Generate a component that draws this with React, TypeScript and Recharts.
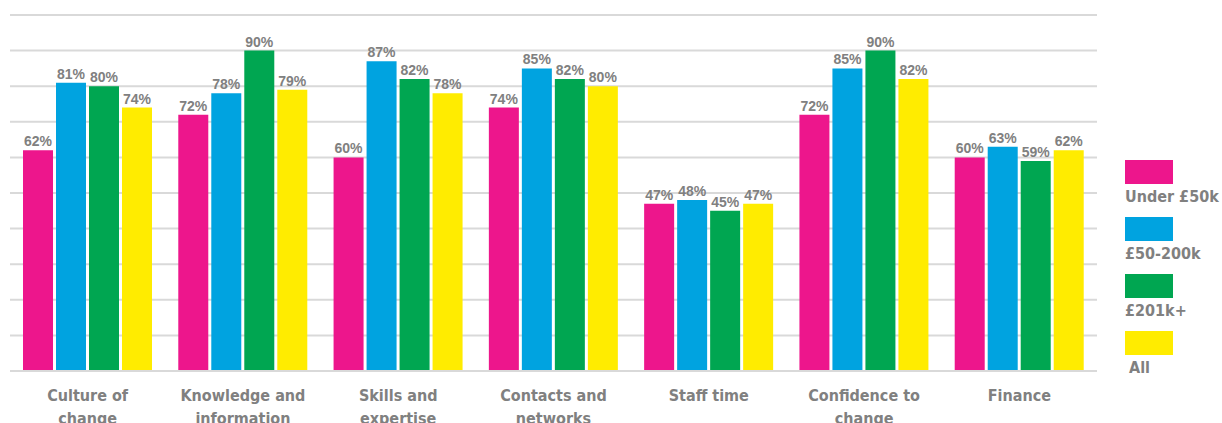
import React from 'react';
import { BarChart, Bar, XAxis, YAxis, CartesianGrid, LabelList } from 'recharts';

const categories = [
    ['Culture of', 'change'],
    ['Knowledge and', 'information'],
    ['Skills and', 'expertise'],
    ['Contacts and', 'networks'],
    ['Staff time'],
    ['Confidence to', 'change'],
    ['Finance'],
];

const under50k = [62, 72, 60, 74, 47, 72, 60];
const mid50to200k = [81, 78, 87, 85, 48, 85, 63];
const over201k = [80, 90, 82, 82, 45, 90, 59];
const allOrgs = [74, 79, 78, 80, 47, 82, 62];

const yTicks = [0, 10, 20, 30, 40, 50, 60, 70, 80, 90, 100];

const series = [
    { key: 'under', name: 'Under £50k', color: '#ED168C' },
    { key: 'mid', name: '£50-200k', color: '#00A3E0' },
    { key: 'big', name: '£201k+', color: '#00A651' },
    { key: 'all', name: 'All', color: '#FFEC00' },
];

const data = categories.map((c, i) => ({
    cat: c.join(' '),
    lines: c,
    under: under50k[i],
    mid: mid50to200k[i],
    big: over201k[i],
    all: allOrgs[i],
}));

const GREY = '#808080';
const FONT = "'DejaVu Sans Condensed', 'Liberation Sans', sans-serif";

function CategoryTick(props: any) {
    const { x, y, payload } = props;
    const lines: string[] = data[payload.index]?.lines ?? [String(payload.value)];
    return (
        <text
            x={x}
            y={y + 22}
            textAnchor="middle"
            fill={GREY}
            fontFamily={FONT}
            fontWeight={700}
            fontSize={16}
        >
            {lines.map((l, i) => (
                <tspan key={i} x={x} dy={i === 0 ? 0 : 23}>
                    {l}
                </tspan>
            ))}
        </text>
    );
}

function SideLegend() {
    return (
        <div
            style={{
                position: 'absolute',
                left: 1125,
                top: 160,
                fontFamily: FONT,
                fontWeight: 700,
                fontSize: 16,
                color: GREY,
                whiteSpace: 'nowrap',
            }}
        >
            {series.map((s) => (
                <div key={s.key} style={{ height: 57 }}>
                    <div style={{ width: 48, height: 24, background: s.color }} />
                    <div style={{ marginTop: 3, lineHeight: '20px', paddingLeft: s.key === 'all' ? 4 : 0 }}>
                        {s.name}
                    </div>
                </div>
            ))}
        </div>
    );
}

export default function App() {
    return (
        <div style={{ position: 'fixed', left: 0, top: 0, width: 1222, height: 423, background: '#ffffff', overflow: 'hidden' }}>
            <BarChart
                width={1222}
                height={423}
                data={data}
                margin={{ top: 15, right: 125, left: 10, bottom: 0 }}
                barSize={30}
                barGap={3}
            >
                <CartesianGrid vertical={false} stroke="#d9d9d9" strokeWidth={2} />
                <YAxis hide domain={[0, 100]} ticks={yTicks} interval={0} />
                <XAxis
                    dataKey="cat"
                    height={52}
                    axisLine={{ stroke: '#d9d9d9', strokeWidth: 2 }}
                    tickLine={false}
                    tick={<CategoryTick />}
                    interval={0}
                />
                {series.map((s) => (
                    <Bar key={s.key} dataKey={s.key} name={s.name} fill={s.color} isAnimationActive={false}>
                        <LabelList
                            dataKey={s.key}
                            position="top"
                            offset={4}
                            formatter={(v: any) => `${v}%`}
                            fill={GREY}
                            fontSize={14}
                            fontWeight={700}
                            fontFamily="'Liberation Sans', Arial, sans-serif"
                        />
                    </Bar>
                ))}
            </BarChart>
            <SideLegend />
        </div>
    );
}
